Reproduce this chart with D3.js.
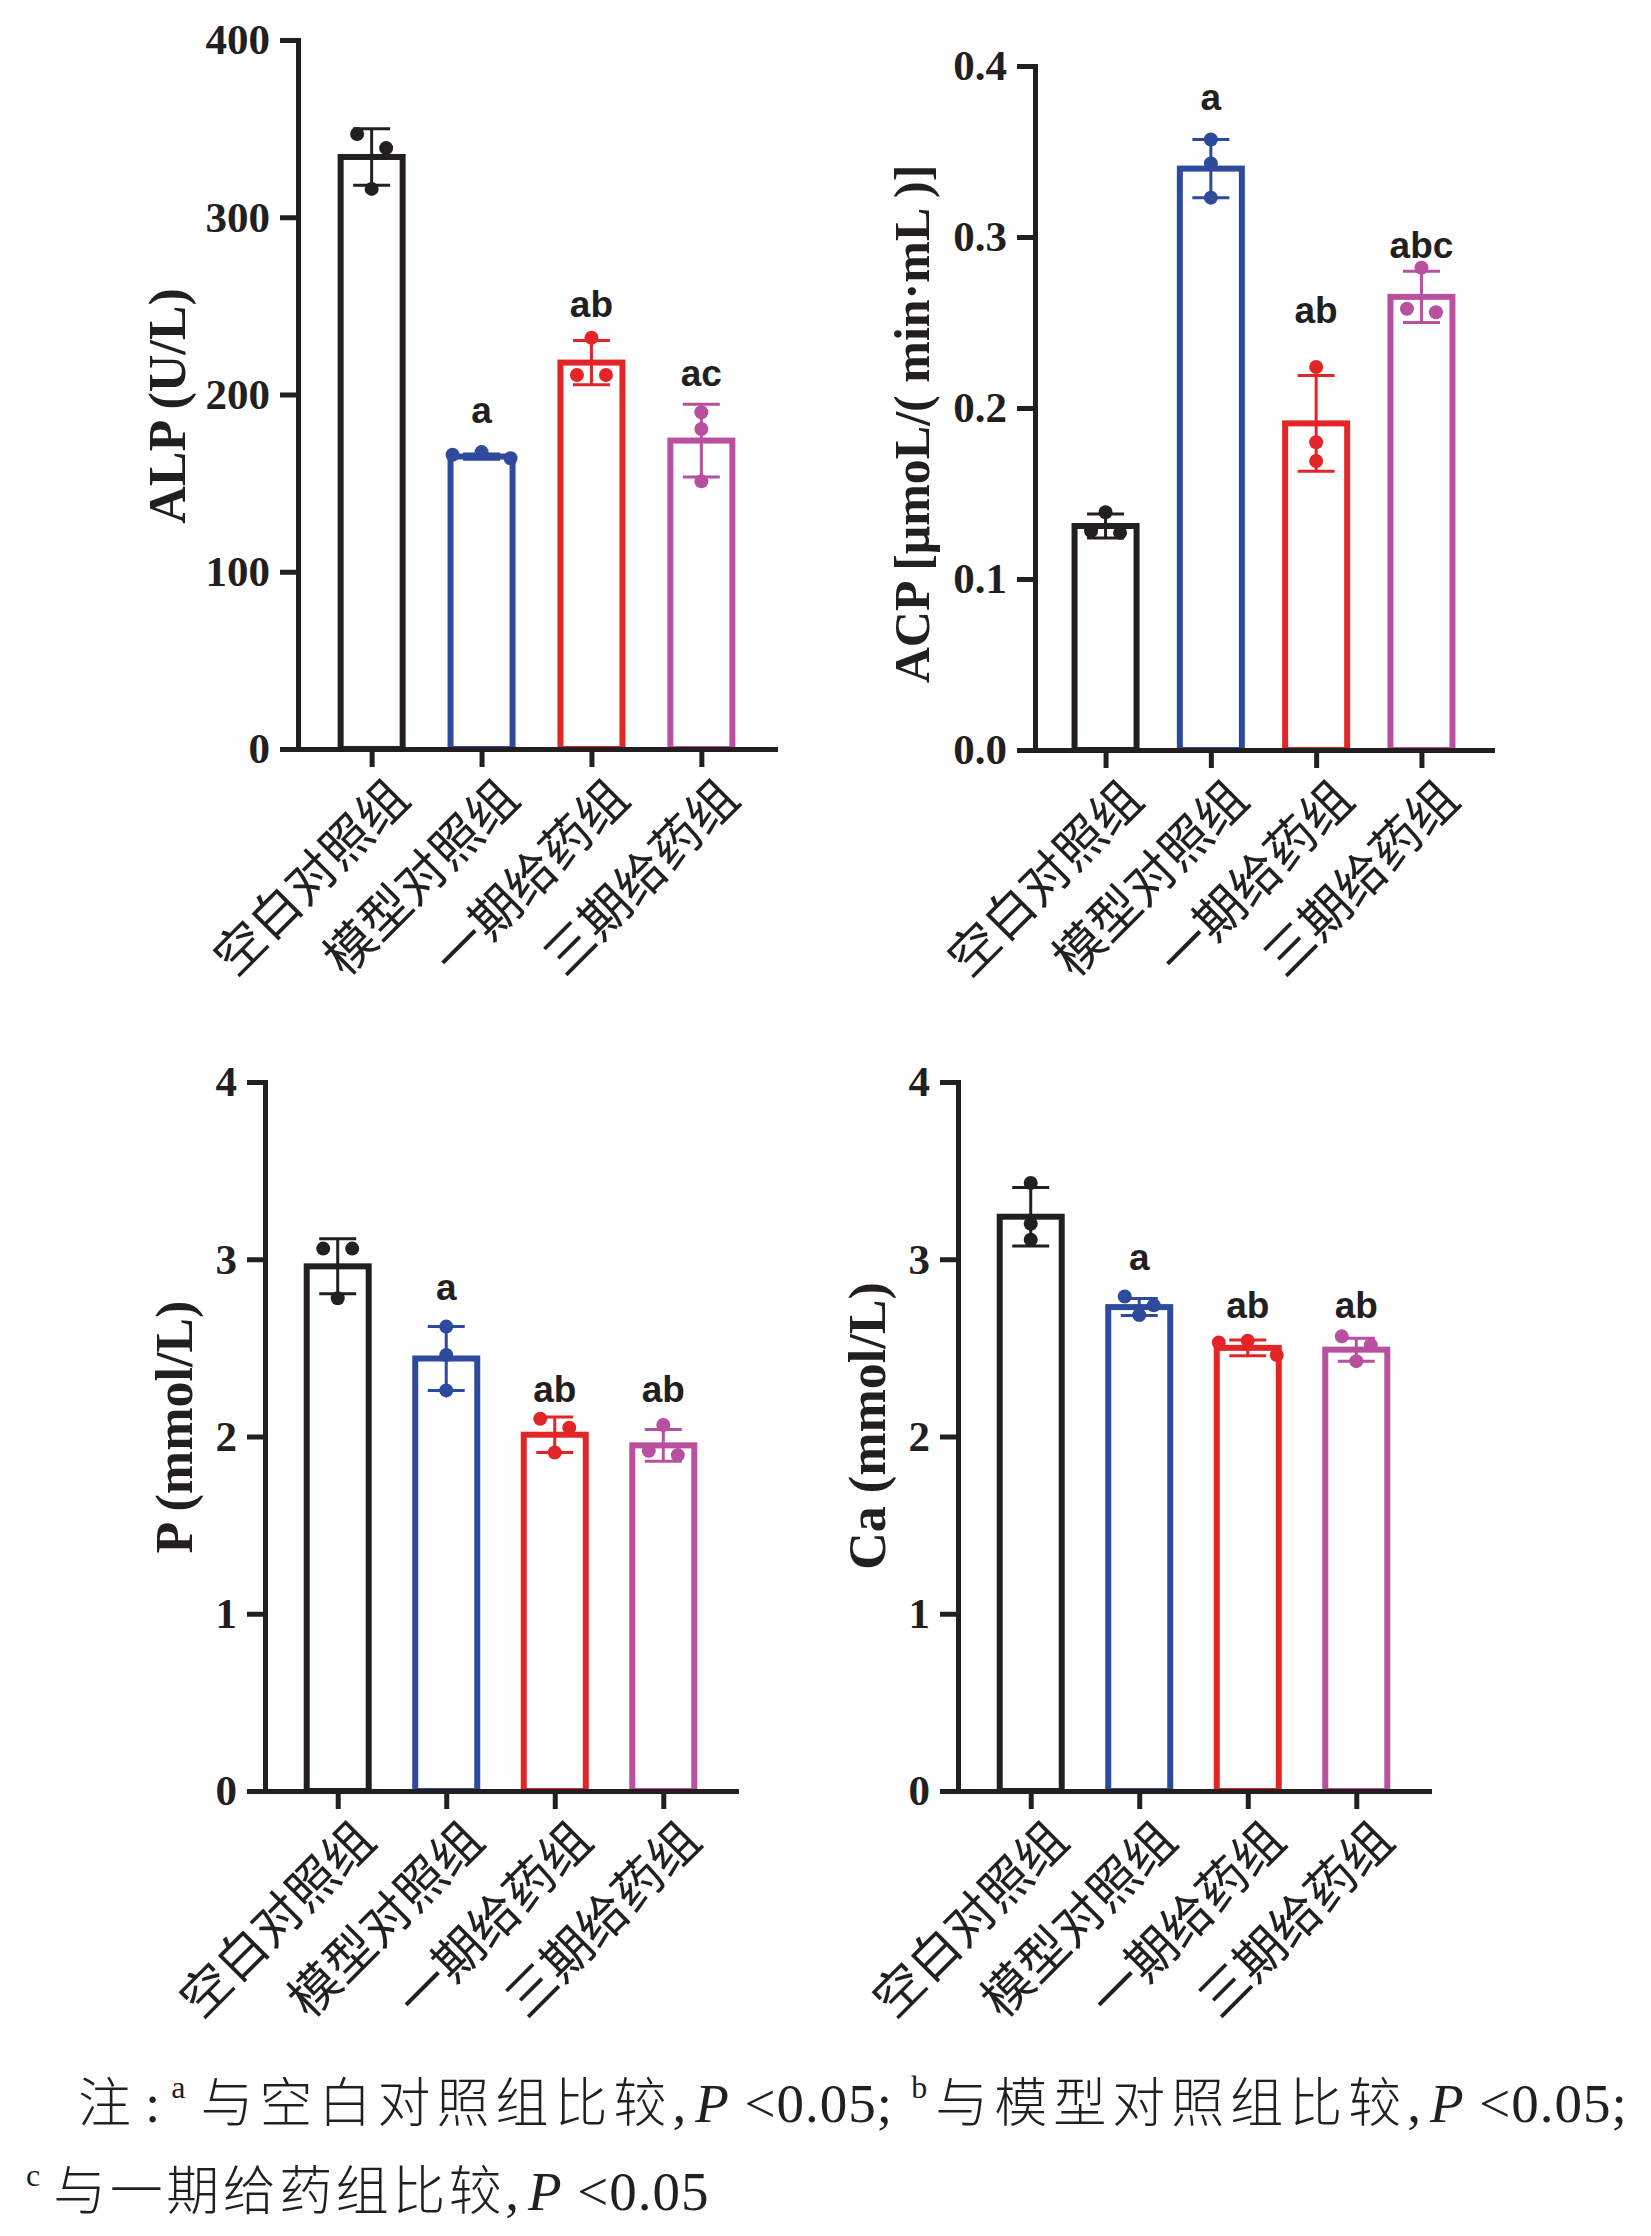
<!DOCTYPE html>
<html lang="zh">
<head>
<meta charset="utf-8"/>
<script src="https://cdn.jsdelivr.net/npm/d3@7"></script>
<style>
  body { margin: 0; background: #fff; }
  svg { display: block; background: #fff; }
</style>
</head>
<body>
<svg id="fig" width="1651" height="2236"></svg>
<script>
const groups = ["空白对照组", "模型对照组", "一期给药组", "三期给药组"];
const groupColors = ["#231f20", "#2d4a9c", "#e42528", "#b8509f"];

// ALP (U/L)
const alpMean = [334, 165, 218, 174];
const alpSD = [16, 1.5, 12.5, 20.5];
const alpPoints = [[347, 339, 316], [166, 167.5, 164], [232, 211, 211], [190, 180.5, 151]];
const alpSig = ["", "a", "ab", "ac"];
const alpSigAt = [0, 184, 244, 205];
const alpTicks = [0, 100, 200, 300, 400];

// ACP
const acpMean = [0.131, 0.340, 0.191, 0.265];
const acpSD = [0.007, 0.017, 0.028, 0.015];
const acpPoints = [[0.139, 0.128, 0.127], [0.357, 0.343, 0.323], [0.224, 0.180, 0.169], [0.282, 0.256, 0.258]];
const acpSig = ["", "a", "ab", "abc"];
const acpSigAt = [0, 0.374, 0.250, 0.288];
const acpTicks = [0, 0.1, 0.2, 0.3, 0.4];

// P (mmol/L)
const pMean = [2.96, 2.44, 2.01, 1.95];
const pSD = [0.155, 0.18, 0.10, 0.09];
const pPoints = [[3.06, 3.06, 2.78], [2.62, 2.46, 2.26], [2.10, 2.05, 1.91], [2.065, 1.92, 1.895]];
const pSig = ["", "a", "ab", "ab"];
const pSigAt = [0, 2.77, 2.194, 2.194];
const pTicks = [0, 1, 2, 3, 4];

// Ca (mmol/L)
const caMean = [3.24, 2.73, 2.50, 2.49];
const caSD = [0.165, 0.048, 0.045, 0.065];
const caPoints = [[3.43, 3.20, 3.11], [2.79, 2.74, 2.685], [2.54, 2.53, 2.46], [2.565, 2.515, 2.425]];
const caSig = ["", "a", "ab", "ab"];
const caSigAt = [0, 2.94, 2.668, 2.668];
const caTicks = [0, 1, 2, 3, 4];

// footnote, as [text, style, dx]
const note1 = [["注", "cjk", 0], [":", "lat", 8], ["a", "sup", 10], ["与空白对照组比较", "cjk", 15],
  [",", "lat", 0], ["P", "ital", 8], [" <0.05;", "lat", 0], ["b", "sup", 18],
  ["与模型对照组比较", "cjk", 8], [",", "lat", 0], ["P", "ital", 8], [" <0.05;", "lat", 0]];
const note2 = [["c", "sup", 0], ["与一期给药组比较", "cjk", 13], [",", "lat", 0], ["P", "ital", 8], [" <0.05", "lat", 0]];

const ink = "#231f20";
const barW = 62;
const capHalf = 18.5;
const dotR = 7;

const panels = [
  { title: "ALP (U/L)", mean: alpMean, sd: alpSD, pts: alpPoints, sig: alpSig, sigAt: alpSigAt, ticks: alpTicks,
    fmt: d3.format("d"), axisX: 298, yBottom: 749, yTop: 40, xEnd: 775, titleX: 167, titleY: 406, titleSize: 52 },
  { title: "ACP [μmoL/( min·mL )]", mean: acpMean, sd: acpSD, pts: acpPoints, sig: acpSig, sigAt: acpSigAt, ticks: acpTicks,
    fmt: d3.format(".1f"), axisX: 1035, yBottom: 750, yTop: 66, xEnd: 1492, titleX: 912, titleY: 424, titleSize: 50 },
  { title: "P (mmol/L)", mean: pMean, sd: pSD, pts: pPoints, sig: pSig, sigAt: pSigAt, ticks: pTicks,
    fmt: d3.format("d"), axisX: 265, yBottom: 1791, yTop: 1082, xEnd: 736, titleX: 174, titleY: 1427, titleSize: 52 },
  { title: "Ca (mmol/L)", mean: caMean, sd: caSD, pts: caPoints, sig: caSig, sigAt: caSigAt, ticks: caTicks,
    fmt: d3.format("d"), axisX: 958, yBottom: 1791, yTop: 1082, xEnd: 1429, titleX: 867, titleY: 1426, titleSize: 52 }
];

// GraphPad-like scatter: points that would overlap go side by side
function spread(values, y) {
  const sorted = values.slice().sort((a, b) => b - a);
  const rows = [];
  sorted.forEach(v => {
    const row = rows[rows.length - 1];
    if (row && Math.abs(y(row[0]) - y(v)) < 15.5) row.push(v);
    else rows.push([v]);
  });
  const out = [];
  rows.forEach(row => {
    const order = row.length === 3 ? [0, -1, 1] : row.length === 2 ? [-0.5, 0.5] : [0];
    row.forEach((v, k) => out.push({ v: v, dx: order[k] * 29 }));
  });
  return out;
}

const svg = d3.select("#fig");

panels.forEach(p => {
  const g = svg.append("g");
  const y = d3.scaleLinear().domain([0, d3.max(p.ticks)]).range([p.yBottom, p.yTop]);
  const x = d3.scalePoint().domain(groups).range([p.axisX, p.xEnd]).padding(0.67);

  // bars
  g.selectAll("rect.bar").data(p.mean).join("rect")
    .attr("class", "bar")
    .attr("x", (d, i) => x(groups[i]) - barW / 2)
    .attr("y", d => y(d))
    .attr("width", barW)
    .attr("height", d => y(0) - y(d))
    .attr("fill", "#fff")
    .attr("stroke", (d, i) => groupColors[i])
    .attr("stroke-width", 6);

  // axes
  const ya = g.append("g")
    .attr("transform", `translate(${p.axisX},0)`)
    .call(d3.axisLeft(y).tickValues(p.ticks).tickFormat(p.fmt).tickSize(18).tickPadding(10).tickSizeOuter(0));
  const xa = g.append("g")
    .attr("transform", `translate(0,${p.yBottom})`)
    .call(d3.axisBottom(x).tickSize(18).tickSizeOuter(0).tickFormat(""));
  [ya, xa].forEach(a => {
    a.select(".domain").attr("stroke", ink).attr("stroke-width", 5).attr("stroke-linecap", "square");
    a.selectAll(".tick line").attr("stroke", ink).attr("stroke-width", 5);
  });
  ya.selectAll(".tick text")
    .attr("fill", ink)
    .style("font", "bold 43px 'Liberation Serif', 'Times New Roman', serif");

  // error bars (mean ± SD)
  const eb = g.selectAll("g.err").data(p.mean).join("g")
    .attr("class", "err")
    .attr("stroke", (d, i) => groupColors[i])
    .attr("stroke-width", 3);
  eb.append("line")
    .attr("x1", (d, i) => x(groups[i])).attr("x2", (d, i) => x(groups[i]))
    .attr("y1", (d, i) => y(d - p.sd[i])).attr("y2", (d, i) => y(d + p.sd[i]));
  [1, -1].forEach(s => {
    eb.append("line")
      .attr("x1", (d, i) => x(groups[i]) - capHalf).attr("x2", (d, i) => x(groups[i]) + capHalf)
      .attr("y1", (d, i) => y(d + s * p.sd[i])).attr("y2", (d, i) => y(d + s * p.sd[i]));
  });

  // individual values
  p.pts.forEach((vals, i) => {
    g.selectAll(null).data(spread(vals, y)).join("circle")
      .attr("cx", d => x(groups[i]) + d.dx)
      .attr("cy", d => y(d.v))
      .attr("r", dotR)
      .attr("fill", groupColors[i]);
  });

  // significance letters
  g.selectAll("text.sig").data(p.sig).join("text")
    .attr("class", "sig")
    .attr("x", (d, i) => x(groups[i]))
    .attr("y", (d, i) => y(p.sigAt[i]))
    .attr("text-anchor", "middle")
    .attr("fill", ink)
    .style("font", "bold 37px 'Liberation Sans', Arial, sans-serif")
    .text(d => d);

  // rotated category labels
  g.selectAll("text.xl").data(groups).join("text")
    .attr("class", "xl")
    .attr("transform", d => `translate(${x(d) + 28},${p.yBottom + 40}) rotate(-45)`)
    .attr("text-anchor", "end")
    .attr("dy", "0.35em")
    .attr("fill", ink)
    .style("font", "400 50px 'Noto Sans CJK SC', sans-serif")
    .text(d => d);

  // y title
  g.append("text")
    .attr("transform", `translate(${p.titleX},${p.titleY}) rotate(-90)`)
    .attr("text-anchor", "middle")
    .attr("dominant-baseline", "central")
    .attr("fill", ink)
    .style("font", `bold ${p.titleSize}px 'Liberation Serif', 'Times New Roman', serif`)
    .text(p.title);
});

// footnote
const segStyle = {
  cjk: { font: "300 53px 'Noto Sans CJK SC', sans-serif", ls: 5 },
  lat: { font: "400 55px 'Liberation Serif', serif", ls: 1 },
  ital: { font: "italic 400 55px 'Liberation Serif', serif", ls: 1 },
  sup: { font: "400 32px 'Liberation Serif', serif", ls: 0 }
};
function drawNote(segs, x0, yb, cjkSpacing) {
  const t = svg.append("text").attr("x", x0).attr("y", yb).attr("fill", ink);
  let raised = false;
  segs.forEach(([txt, kind, dx]) => {
    const s = segStyle[kind];
    const ls = kind === "cjk" ? cjkSpacing : s.ls;
    let dy = 0;
    if (kind === "sup" && !raised) { dy = -24; raised = true; }
    else if (kind !== "sup" && raised) { dy = 24; raised = false; }
    t.append("tspan")
      .attr("dx", dx)
      .attr("dy", dy)
      .style("font", s.font)
      .style("letter-spacing", ls + "px")
      .style("white-space", "pre")
      .text(txt);
  });
}
drawNote(note1, 78, 2122, 6);
drawNote(note2, 26, 2210, 3.5);
</script>
</body>
</html>
